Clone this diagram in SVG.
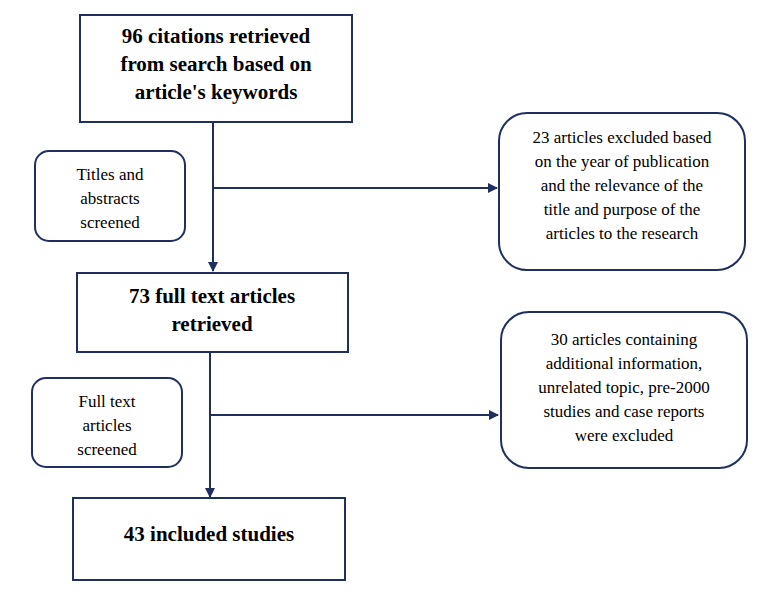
<svg xmlns="http://www.w3.org/2000/svg" width="778" height="613" viewBox="0 0 778 613">
<style>
.b{fill:#fff;stroke:#1f3060;stroke-width:2}
.t{font-family:"Liberation Serif",serif;font-size:17px;fill:#000;text-anchor:middle}
.h{font-family:"Liberation Serif",serif;font-size:21px;font-weight:bold;fill:#000;text-anchor:middle}
.c{stroke:#1f3060;stroke-width:2;fill:none}
</style>
<defs><marker id="a" viewBox="0 0 10 10" refX="9" refY="5" markerWidth="5" markerHeight="5" orient="auto"><path d="M0,0L10,5L0,10z" fill="#1f3060"/></marker></defs>
<rect width="778" height="613" fill="#fff"/>
<g id="connectors">
<line class="c" x1="213" y1="122" x2="213" y2="271" marker-end="url(#a)"/>
<line class="c" x1="213" y1="188" x2="497" y2="188" marker-end="url(#a)"/>
<line class="c" x1="210" y1="352" x2="210" y2="497" marker-end="url(#a)"/>
<line class="c" x1="210" y1="415" x2="498" y2="415" marker-end="url(#a)"/>
</g>
<g id="n1"><rect class="b" x="80" y="15" width="272" height="107"/>
<text class="h" x="216" y="43">96 citations retrieved</text><text class="h" x="216" y="71">from search based on</text><text class="h" x="216" y="99">article's keywords</text></g>
<g id="n2"><rect class="b" x="35" y="151" width="150" height="90" rx="14"/>
<text class="t" x="110" y="180">Titles and</text><text class="t" x="110" y="204">abstracts</text><text class="t" x="110" y="228">screened</text></g>
<g id="n3"><rect class="b" x="499" y="113" width="246" height="157" rx="28"/>
<text class="t" x="622" y="143">23 articles excluded based</text><text class="t" x="622" y="167">on the year of publication</text><text class="t" x="622" y="191">and the relevance of the</text><text class="t" x="622" y="215">title and purpose of the</text><text class="t" x="622" y="239">articles to the research</text></g>
<g id="n4"><rect class="b" x="77" y="273" width="271" height="79"/>
<text class="h" x="212" y="303">73 full text articles</text><text class="h" x="212" y="331">retrieved</text></g>
<g id="n5"><rect class="b" x="32" y="378" width="150" height="89" rx="14"/>
<text class="t" x="107" y="407">Full text</text><text class="t" x="107" y="431">articles</text><text class="t" x="107" y="455">screened</text></g>
<g id="n6"><rect class="b" x="501" y="312" width="246" height="156" rx="28"/>
<text class="t" x="624" y="345">30 articles containing</text><text class="t" x="624" y="369">additional information,</text><text class="t" x="624" y="393">unrelated topic, pre-2000</text><text class="t" x="624" y="417">studies and case reports</text><text class="t" x="624" y="441">were excluded</text></g>
<g id="n7"><rect class="b" x="73" y="498" width="272" height="82"/>
<text class="h" x="209" y="541">43 included studies</text></g>
</svg>
